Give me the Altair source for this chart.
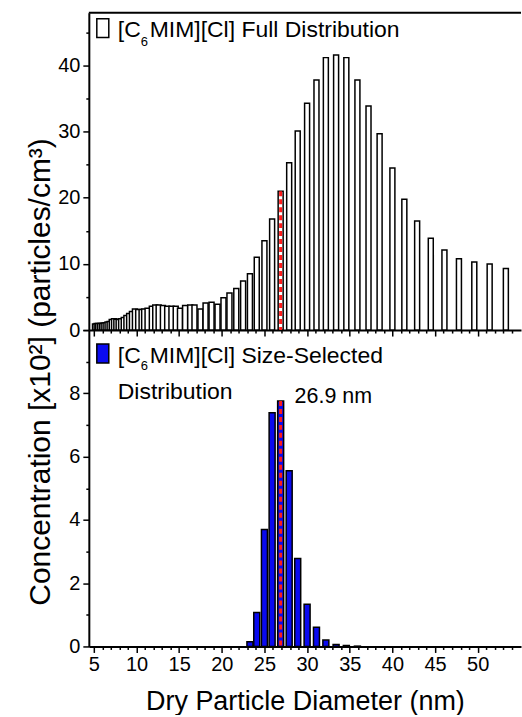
import altair as alt
import pandas as pd

# SMPS bin midpoints (nm) and number concentrations (x10^2 particles/cm^3)
full_diam = [5.14, 5.33, 5.52, 5.73, 5.94, 6.15, 6.38, 6.61, 6.85, 7.10,
             7.37, 7.64, 7.91, 8.20, 8.51, 8.82, 9.14, 9.47, 9.82, 10.2,
             10.6, 10.9, 11.3, 11.8, 12.2, 12.6, 13.1, 13.6, 14.1, 14.6,
             15.1, 15.7, 16.3, 16.8, 17.5, 18.1, 18.8, 19.5, 20.2, 20.9,
             21.7, 22.5, 23.3, 24.1, 25.0, 25.9, 26.9, 27.9, 28.9, 30.0,
             31.1, 32.2, 33.4, 34.6, 35.9, 37.2, 38.5, 40.0, 41.4, 42.9,
             44.5, 46.1, 47.8, 49.6, 51.4, 53.3]
full_conc = [0.9, 1.0, 1.0, 1.0, 1.0, 1.05, 1.1, 1.2, 1.3, 1.6,
             1.7, 1.65, 1.6, 1.7, 1.9, 2.2, 2.5, 2.8, 3.2, 3.1,
             3.1, 3.2, 3.3, 3.6, 3.8, 3.8, 3.7, 3.6, 3.6, 3.6,
             3.3, 3.7, 3.8, 3.8, 3.2, 4.1, 4.2, 3.9, 4.9, 5.6,
             6.3, 7.4, 8.5, 11.0, 13.5, 16.8, 21.0, 25.3, 30.1, 34.3,
             37.8, 41.2, 41.6, 41.2, 37.8, 33.9, 29.7, 24.5, 19.8, 16.5,
             13.9, 12.1, 10.8, 10.3, 10.0, 9.3]

sel_diam = [23.3, 24.1, 25.0, 25.9, 26.9, 27.9, 28.9, 30.0, 31.1, 32.2,
            33.4, 34.6, 35.9]
sel_conc = [0.15, 1.07, 3.7, 7.39, 7.76, 5.55, 2.78, 1.33, 0.61, 0.2,
            0.06, 0.03, 0.01]

mode_diam = 26.9

x_tick_values = list(range(5, 55))
top_y_tick_values = list(range(0, 50, 5))
bot_y_tick_values = list(range(0, 11))

FONT = "Liberation Sans"
W, H_TOP, H_BOT = 433, 318, 317
X_DOMAIN = [5, 54.49]

full_df = pd.DataFrame({"d": full_diam, "c": full_conc})
sel_df = pd.DataFrame({"d": sel_diam, "c": sel_conc})
mode_top = pd.DataFrame({"d": [mode_diam], "c": [full_conc[full_diam.index(mode_diam)]]})
mode_bot = pd.DataFrame({"d": [mode_diam], "c": [sel_conc[sel_diam.index(mode_diam)]]})
one = pd.DataFrame({"k": [0]})


def x_axis(show_labels, title=None):
    kw = dict(
        values=x_tick_values, tickCount=500, format="d",
        labelExpr="datum.value % 5 === 0 ? datum.label : ''",
        labelFlush=False, labelOverlap=False,
        tickSize={"condition": {"test": "datum.value % 5 === 0", "value": 6}, "value": 3},
        tickWidth=1.5, tickColor="black",
        domainColor="black", domainWidth=2, grid=False,
        labelFont=FONT, labelFontSize=20, labelColor="black", labelPadding=2,
        labels=show_labels,
    )
    if title:
        kw.update(title=title, titleFont=FONT, titleFontSize=27,
                  titleFontWeight="normal", titleColor="black",
                  titleBaseline="alphabetic", titleY=63)
    else:
        kw.update(title=None)
    return alt.Axis(**kw)


def y_axis(values, major_test, label_test):
    return alt.Axis(
        values=values, tickCount=500, format="d",
        labelExpr=f"{label_test} ? datum.label : ''",
        labelOverlap=False,
        tickSize={"condition": {"test": major_test, "value": 6}, "value": 3},
        tickWidth=1.5, tickColor="black",
        domainColor="black", domainWidth=2, grid=False,
        labelFont=FONT, labelFontSize=20, labelColor="black", labelPadding=3,
        title=None,
    )


def text_at(txt, x, y, size, **kw):
    return alt.Chart(one).mark_text(
        text=txt, align="left", baseline="alphabetic", font=FONT,
        fontSize=size, color="black", **kw
    ).encode(x=alt.value(x), y=alt.value(y))


x_scale = alt.Scale(domain=X_DOMAIN, nice=False, zero=False)
top_y_scale = alt.Scale(domain=[0, 48], nice=False)
bot_y_scale = alt.Scale(domain=[0, 10], nice=False)

# ---- upper panel: full distribution ----
top_bars = alt.Chart(full_df).mark_bar(
    width=5, fill="white", stroke="black", strokeWidth=1.5, clip=True
).encode(
    x=alt.X("d:Q", scale=x_scale, axis=x_axis(False)),
    y=alt.Y("c:Q", scale=top_y_scale,
            axis=y_axis(top_y_tick_values, "datum.value % 10 === 0",
                        "datum.value % 10 === 0")),
)
top_marker = alt.Chart(mode_top).mark_rule(
    color="#ff1a1a", strokeWidth=3, strokeDash=[5, 3]
).encode(x="d:Q", y="c:Q", y2=alt.datum(0))
top_frame = alt.Chart(one).mark_rule(color="black", strokeWidth=2).encode(
    x=alt.value(0), x2=alt.value(W), y=alt.value(0)
)
# keeps a fixed margin on the left and top of the figure
anchor = alt.Chart(one).mark_rule(strokeOpacity=0, strokeWidth=0).encode(
    x=alt.value(-89), x2=alt.value(-89), y=alt.value(-12), y2=alt.value(0)
)
top_key = alt.Chart(one).mark_rect(fill="white", stroke="black", strokeWidth=1.5).encode(
    x=alt.value(8), x2=alt.value(20), y=alt.value(6), y2=alt.value(25)
)
y_title = alt.Chart(one).mark_text(
    text="Concentration [x10²] (particles/cm³)", angle=270, align="center",
    baseline="alphabetic", font=FONT, fontSize=30, color="black"
).encode(x=alt.value(-39), y=alt.value(360))

top = alt.layer(
    top_bars, top_marker, top_frame, anchor, top_key,
    text_at("[C", 29, 24, 23), text_at("6", 52, 33, 13),
    text_at("MIM][Cl] Full Distribution", 61, 24, 23),
    y_title,
).properties(width=W, height=H_TOP)

# ---- lower panel: size-selected distribution ----
bot_bars = alt.Chart(sel_df).mark_bar(
    width=6, fill="#0a0af0", stroke="black", strokeWidth=1.5
).encode(
    x=alt.X("d:Q", scale=x_scale,
            axis=x_axis(True, "Dry Particle Diameter (nm)")),
    y=alt.Y("c:Q", scale=bot_y_scale,
            axis=y_axis(bot_y_tick_values, "datum.value % 2 === 0",
                        "datum.value % 2 === 0 && datum.value < 10")),
)
bot_marker = alt.Chart(mode_bot).mark_rule(
    color="#ff1a1a", strokeWidth=3, strokeDash=[5, 3]
).encode(x="d:Q", y="c:Q", y2=alt.datum(0))
bot_key = alt.Chart(one).mark_rect(fill="#0a0af0", stroke="black", strokeWidth=1.5).encode(
    x=alt.value(8), x2=alt.value(20), y=alt.value(14), y2=alt.value(33)
)
mode_label = alt.Chart(mode_bot).mark_text(
    align="left", baseline="alphabetic", font=FONT, fontSize=21.5,
    color="black", dx=14
).encode(x="d:Q", y=alt.value(73), text=alt.value(f"{mode_diam} nm"))

bottom = alt.layer(
    bot_bars, bot_marker, bot_key,
    text_at("[C", 29, 33, 23), text_at("6", 52, 40, 13),
    text_at("MIM][Cl] Size-Selected", 61, 33, 23),
    text_at("Distribution", 29, 69, 23),
    mode_label,
).properties(width=W, height=H_BOT)

chart = alt.vconcat(top, bottom, spacing=0, bounds="flush").properties(
    padding=0, background="white"
).configure_view(stroke=None)

chart.save("out.html", embed_options={"renderer": "svg", "actions": False})
